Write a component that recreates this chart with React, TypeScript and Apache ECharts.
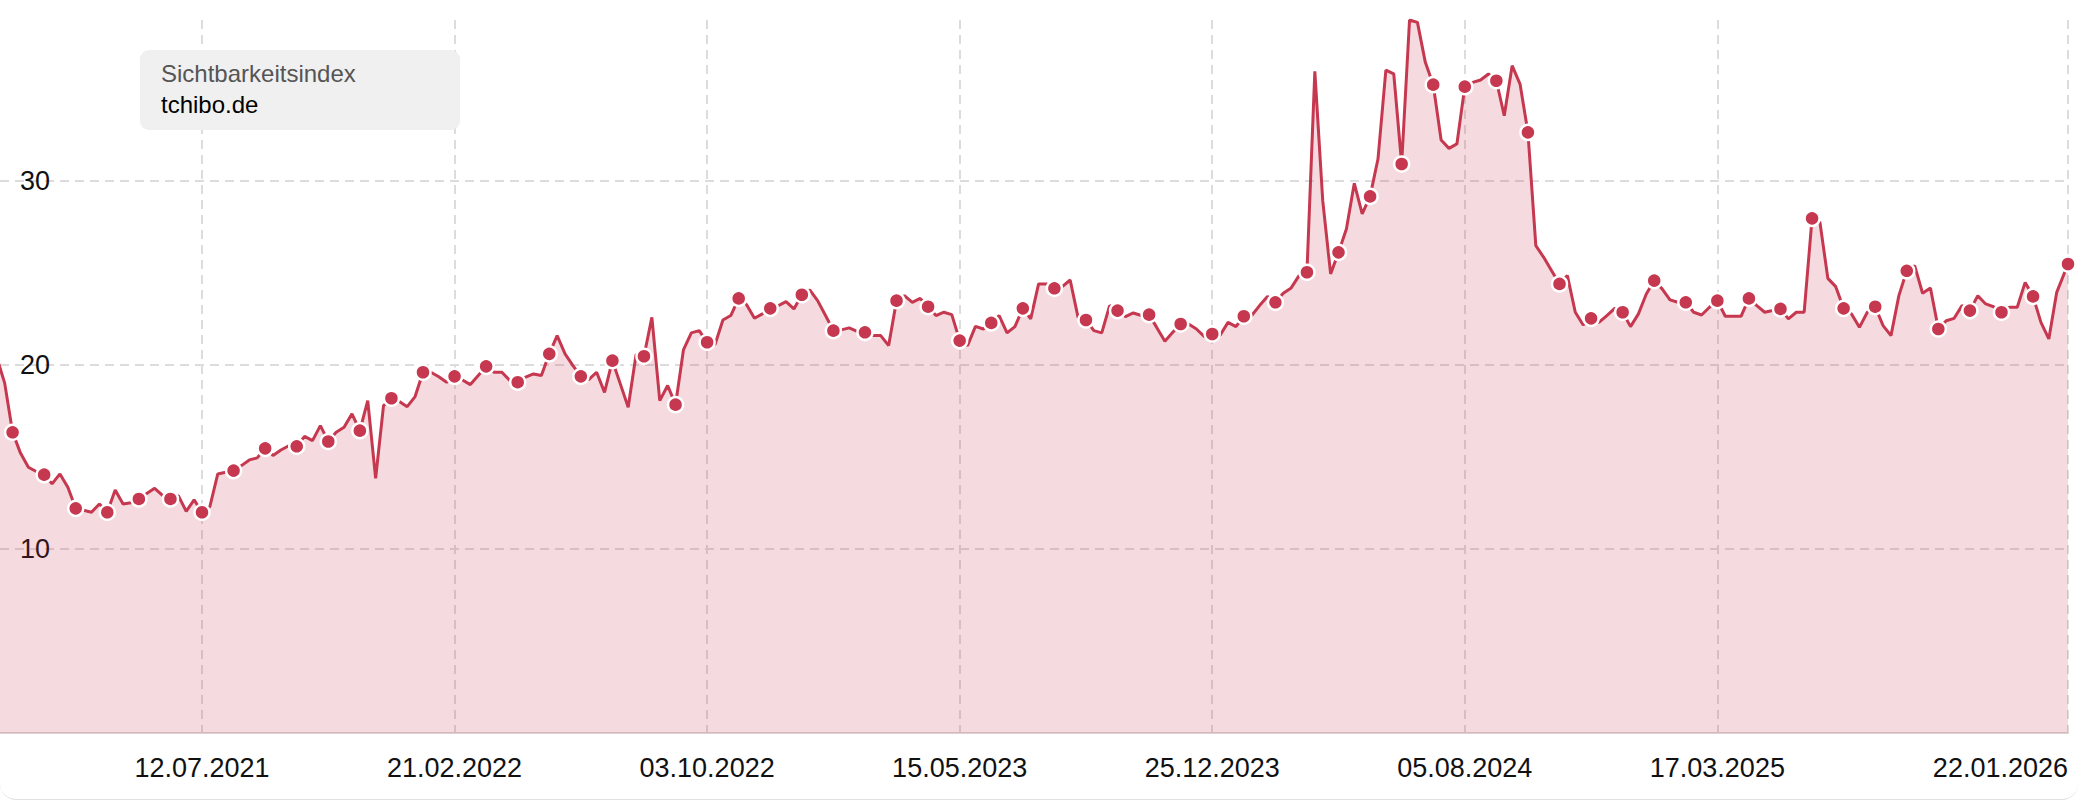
import React, { useEffect, useRef } from "react";
import * as echarts from "echarts";

const seriesName = "Sichtbarkeitsindex";
const domainName = "tchibo.de";

// weekly values, first week starting 11.01.2021
const firstWeek = "11.01.2021";
const weeklyValues = [
  20.4, 19.0, 16.33, 15.2,
  14.43, 14.2, 14.03, 13.53,
  14.07, 13.35, 12.2, 12.1,
  11.99, 12.44, 11.99, 13.2,
  12.44, 12.5, 12.71, 13.0,
  13.29, 12.9, 12.71, 12.89,
  12.04, 12.66, 11.99, 12.3,
  14.07, 14.16, 14.25, 14.52,
  14.83, 14.94, 15.46, 15.07,
  15.37, 15.6, 15.57, 16.11,
  15.88, 16.69, 15.83, 16.33,
  16.6, 17.33, 16.42, 18.05,
  13.83, 17.78, 18.18, 18.0,
  17.72, 18.27, 19.59, 19.59,
  19.35, 19.05, 19.37, 19.17,
  18.92, 19.41, 19.91, 19.59,
  19.59, 19.14, 19.05, 19.32,
  19.5, 19.41, 20.59, 21.58,
  20.59, 19.95, 19.37, 19.19,
  19.59, 18.5, 20.22, 18.96,
  17.69, 20.55, 20.46, 22.57,
  18.05, 18.87, 17.83, 20.8,
  21.73, 21.85, 21.22, 21.09,
  22.43, 22.67, 23.6, 23.26,
  22.52, 22.76, 23.06, 23.2,
  23.43, 23.03, 23.8, 24.06,
  23.48, 22.67, 21.85, 21.89,
  22.0, 21.81, 21.76, 21.58,
  21.58, 21.04, 23.48, 23.75,
  23.39, 23.6, 23.15, 22.67,
  22.85, 22.72, 21.31, 21.04,
  22.08, 21.94, 22.27, 22.67,
  21.73, 22.07, 23.06, 22.49,
  24.39, 24.39, 24.15, 24.24,
  24.6, 22.57, 22.43, 21.85,
  21.73, 23.21, 22.94, 22.61,
  22.81, 22.67, 22.72, 22.0,
  21.27, 21.76, 22.21, 22.21,
  21.94, 21.53, 21.67, 21.6,
  22.3, 22.07, 22.63, 22.67,
  23.21, 23.7, 23.39, 23.88,
  24.17, 24.84, 25.02, 35.93,
  28.91, 24.93, 26.1, 27.37,
  29.85, 28.19, 29.14, 31.17,
  36.0, 35.79, 30.9, 38.72,
  38.59, 36.42, 35.21, 32.2,
  31.75, 31.99, 35.1, 35.33,
  35.46, 35.79, 35.42, 33.52,
  36.24, 35.24, 32.62, 26.47,
  25.83, 25.1, 24.39, 24.84,
  22.85, 22.16, 22.52, 22.3,
  22.67, 23.06, 22.85, 22.07,
  22.76, 23.84, 24.57, 24.12,
  23.52, 23.39, 23.39, 22.85,
  22.7, 23.12, 23.48, 22.63,
  22.63, 22.63, 23.6, 23.21,
  22.85, 22.94, 23.03, 22.49,
  22.85, 22.85, 27.95, 27.73,
  24.69, 24.24, 23.06, 22.76,
  22.03, 22.85, 23.15, 22.12,
  21.58, 23.75, 25.1, 25.38,
  23.88, 24.17, 21.94, 22.39,
  22.52, 23.21, 22.94, 23.75,
  23.3, 23.15, 22.85, 23.12,
  23.12, 24.47, 23.71, 22.3,
  21.4, 23.93,
];

// latest (current) value
const lastDate = "22.01.2026";
const lastValue = 25.47;

const tickLabels = [
  "12.07.2021",
  "21.02.2022",
  "03.10.2022",
  "15.05.2023",
  "25.12.2023",
  "05.08.2024",
  "17.03.2025",
  "22.01.2026",
];

const DAY = 86400000;
const parseDate = (s: string) => {
  const [d, m, y] = s.split(".").map(Number);
  return Date.UTC(y, m - 1, d);
};
const pad = (n: number) => String(n).padStart(2, "0");
const formatDate = (v: number) => {
  const d = new Date(v);
  return `${pad(d.getUTCDate())}.${pad(d.getUTCMonth() + 1)}.${d.getUTCFullYear()}`;
};

const LINE = "#c6384f";
const FONT = "'Liberation Sans', Arial, Helvetica, sans-serif";

export default function App() {
  const ref = useRef<HTMLDivElement>(null);

  useEffect(() => {
    if (!ref.current) return;
    const chart = echarts.init(ref.current, undefined, { renderer: "svg" });

    const start = parseDate(firstWeek);
    const points: [number, number][] = weeklyValues.map((v, i) => [start + i * 7 * DAY, v]);
    points.push([parseDate(lastDate), lastValue]);

    const data = points.map((p, i) => ({
      value: p,
      symbol: i % 4 === 2 ? "circle" : "none",
    }));

    const tickValues = tickLabels.map(parseDate);
    const xMax = parseDate(lastDate);
    const xMin = tickValues[0] - 179.16 * DAY;

    const gridLine = { color: "#dcdcdc", width: 2, type: [9, 6] as any };

    chart.setOption({
      animation: false,
      textStyle: { fontFamily: FONT },
      grid: { left: 0, right: 10, top: 20, bottom: 67, containLabel: false },
      xAxis: {
        type: "value",
        min: xMin,
        max: xMax,
        axisLine: { show: true, lineStyle: { color: "#dcd2d4", width: 2 } },
        axisTick: { show: false, customValues: tickValues },
        axisLabel: {
          customValues: tickValues,
          formatter: (v: number) => formatDate(v),
          color: "#111",
          fontSize: 27,
          fontFamily: FONT,
          margin: 21,
          alignMaxLabel: "right",
        },
        splitLine: { show: true, lineStyle: gridLine },
      },
      yAxis: {
        type: "value",
        min: 0,
        max: "dataMax",
        interval: 10,
        axisLine: { show: false },
        axisTick: { show: false },
        axisLabel: {
          inside: true,
          margin: 20,
          showMinLabel: false,
          showMaxLabel: false,
          color: "#111",
          fontSize: 27,
          fontFamily: FONT,
        },
        splitLine: { show: true, showMinLine: false, showMaxLine: false, lineStyle: gridLine },
      },
      graphic: [
        {
          type: "rect",
          z: 100,
          shape: { x: 140, y: 50, width: 320, height: 80, r: 9 },
          style: { fill: "#f0f0f0" },
        },
        {
          type: "text",
          z: 101,
          x: 161,
          y: 73.6,
          style: { text: seriesName, fill: "#555", fontSize: 24, fontFamily: FONT, align: "left", verticalAlign: "middle" },
        },
        {
          type: "text",
          z: 101,
          x: 161,
          y: 104.6,
          style: { text: domainName, fill: "#000", fontSize: 24, fontFamily: FONT, align: "left", verticalAlign: "middle" },
        },
      ],
      series: [
        {
          name: domainName,
          type: "line",
          data,
          showSymbol: true,
          symbolSize: 15,
          itemStyle: { color: LINE, borderColor: "#fff", borderWidth: 2.5 },
          lineStyle: { color: LINE, width: 3 },
          areaStyle: { color: LINE, opacity: 0.18 },
          emphasis: { disabled: true },
        },
      ],
    });

    return () => chart.dispose();
  }, []);

  return (
    <div style={{ position: "fixed", left: 0, top: 0, width: 2078, height: 800, background: "#fff" }}>
      <div ref={ref} style={{ position: "absolute", left: 0, top: 0, width: 2078, height: 800 }} />
      <div
        style={{
          position: "absolute",
          left: 0,
          top: 0,
          width: 2078,
          height: 800,
          boxSizing: "border-box",
          borderBottom: "1px solid #e2e2e2",
          borderBottomLeftRadius: 16,
          borderBottomRightRadius: 16,
          pointerEvents: "none",
        }}
      />
    </div>
  );
}
